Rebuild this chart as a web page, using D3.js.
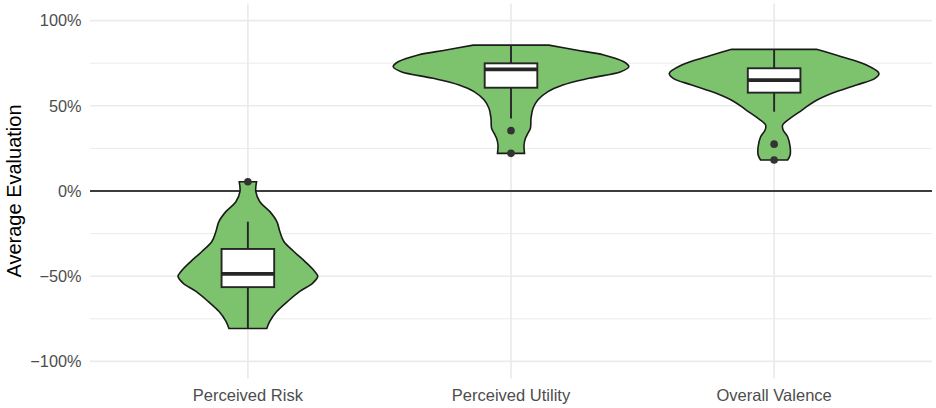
<!DOCTYPE html>
<html lang="en">
<head>
  <meta charset="UTF-8">
  <title>Average Evaluation</title>
  <style>
    body{ margin: 0; background: #fff; }
    text{ font-family: "Liberation Sans", Arial, sans-serif; }
  </style>
</head>
<body>
<svg width="936" height="408"></svg>

<script src="https://cdn.jsdelivr.net/npm/d3@7"></script>
<script>
  // data
  var categories = ["Perceived Risk", "Perceived Utility", "Overall Valence"];
  var yTicks = [-100, -50, 0, 50, 100];
  var yMinor = [-75, -25, 25, 75];

  // violin outlines: value (%) and relative density
  var riskLevels    = [5.4, -0.4, -6.3, -12.1, -18, -23.8, -29.6, -35.5, -41.3, -47.2, -50.1, -54, -58.9, -64.7, -70.6, -76.4, -80.7];
  var riskDensity   = [0.073, 0.067, 0.101, 0.186, 0.245, 0.27, 0.304, 0.388, 0.481, 0.565, 0.59, 0.548, 0.438, 0.337, 0.245, 0.186, 0.16];
  var utilityLevels  = [85.6, 82.7, 79.8, 75.8, 72.9, 70, 66.1, 62.2, 58.3, 53.5, 48.5, 42.6, 36.8, 33.5, 30.9, 27, 22.1];
  var utilityDensity = [0.319, 0.548, 0.784, 0.953, 0.995, 0.927, 0.658, 0.438, 0.312, 0.228, 0.186, 0.169, 0.164, 0.14, 0.122, 0.11, 0.114];
  var valenceLevels  = [83.1, 78.8, 73.9, 69, 66.1, 62.2, 57.3, 52.4, 47.5, 42.6, 38.7, 35.8, 31.8, 26, 21.1, 18.2];
  var valenceDensity = [0.358, 0.569, 0.78, 0.885, 0.852, 0.696, 0.489, 0.337, 0.236, 0.135, 0.072, 0.076, 0.114, 0.135, 0.135, 0.114];

  // boxplot stats per category
  var whiskerLow  = [-80.7, 42.6, 46.5];
  var q1          = [-56.4, 60.6, 57.7];
  var median      = [-48.6, 71.3, 65];
  var q3          = [-34, 74.9, 72];
  var whiskerHigh = [-18, 85.6, 83.1];
  var outliers    = [[5.4], [35.4, 22.1], [27.5, 18.2]];

  var violins = [
    {levels: riskLevels, density: riskDensity},
    {levels: utilityLevels, density: utilityDensity},
    {levels: valenceLevels, density: valenceDensity}
  ];

  var svg = d3.select('svg');
  var panel = {left: 90, right: 932, top: 3.5, bottom: 378.5};

  var x = d3.scalePoint().domain(categories).range([panel.left, panel.right]).padding(0.6);
  var y = d3.scaleLinear().domain([-110, 110]).range([panel.bottom, panel.top]);
  var step = x.step();
  var w = d3.scaleLinear().domain([0, 1]).range([0, step * 0.45]);
  var boxHalf = step * 0.1;

  // grid
  var grid = svg.append('g');
  grid.selectAll('.minor').data(yMinor).enter().append('line')
          .attr('x1', panel.left).attr('x2', panel.right)
          .attr('y1', function (d) { return y(d); }).attr('y2', function (d) { return y(d); })
          .attr('stroke', '#ebebeb').attr('stroke-width', 1);
  grid.selectAll('.major').data(yTicks).enter().append('line')
          .attr('x1', panel.left).attr('x2', panel.right)
          .attr('y1', function (d) { return y(d); }).attr('y2', function (d) { return y(d); })
          .attr('stroke', '#ebebeb').attr('stroke-width', 1.7);
  grid.selectAll('.vert').data(categories).enter().append('line')
          .attr('x1', function (d) { return x(d); }).attr('x2', function (d) { return x(d); })
          .attr('y1', panel.top).attr('y2', panel.bottom)
          .attr('stroke', '#ebebeb').attr('stroke-width', 1.7);

  // zero line
  svg.append('line')
          .attr('x1', panel.left).attr('x2', panel.right)
          .attr('y1', y(0)).attr('y2', y(0))
          .attr('stroke', '#000').attr('stroke-width', 1.5);

  // violins
  var area = d3.area().curve(d3.curveCatmullRom);
  svg.append('g').selectAll('path').data(violins).enter().append('path')
          .attr('d', function (v, i) {
            var cx = x(categories[i]);
            var pts = v.levels.map(function (l, j) { return [l, v.density[j]]; });
            return area
                    .y(function (p) { return y(p[0]); })
                    .x0(function (p) { return cx - w(p[1]); })
                    .x1(function (p) { return cx + w(p[1]); })(pts);
          })
          .attr('fill', '#7DC36D')
          .attr('stroke', '#1a1a1a')
          .attr('stroke-width', 1.6);

  // boxplots
  var boxes = svg.append('g').selectAll('g').data(categories).enter().append('g');
  boxes.append('line')
          .attr('x1', function (d) { return x(d); }).attr('x2', function (d) { return x(d); })
          .attr('y1', function (d, i) { return y(whiskerHigh[i]); })
          .attr('y2', function (d, i) { return y(q3[i]); })
          .attr('stroke', '#262626').attr('stroke-width', 1.9);
  boxes.append('line')
          .attr('x1', function (d) { return x(d); }).attr('x2', function (d) { return x(d); })
          .attr('y1', function (d, i) { return y(q1[i]); })
          .attr('y2', function (d, i) { return y(whiskerLow[i]); })
          .attr('stroke', '#262626').attr('stroke-width', 1.9);
  boxes.append('rect')
          .attr('x', function (d) { return x(d) - boxHalf; })
          .attr('width', boxHalf * 2)
          .attr('y', function (d, i) { return y(q3[i]); })
          .attr('height', function (d, i) { return y(q1[i]) - y(q3[i]); })
          .attr('fill', '#fff').attr('stroke', '#262626').attr('stroke-width', 1.9);
  boxes.append('line')
          .attr('x1', function (d) { return x(d) - boxHalf; })
          .attr('x2', function (d) { return x(d) + boxHalf; })
          .attr('y1', function (d, i) { return y(median[i]); })
          .attr('y2', function (d, i) { return y(median[i]); })
          .attr('stroke', '#262626').attr('stroke-width', 3.8);

  // outliers
  var pts = [];
  outliers.forEach(function (o, i) {
    o.forEach(function (v) { pts.push({cat: categories[i], v: v}); });
  });
  svg.append('g').selectAll('circle').data(pts).enter().append('circle')
          .attr('cx', function (d) { return x(d.cat); })
          .attr('cy', function (d) { return y(d.v); })
          .attr('r', 3.8)
          .attr('fill', '#333');

  // axes text
  svg.append('g').selectAll('text').data(yTicks).enter().append('text')
          .attr('x', 81.5).attr('y', function (d) { return y(d); })
          .attr('dy', '0.36em')
          .attr('text-anchor', 'end')
          .attr('font-size', 16.3)
          .attr('fill', '#4d4d4d')
          .text(function (d) { return (d < 0 ? '\u2212' + (-d) : d) + '%'; });

  svg.append('g').selectAll('text').data(categories).enter().append('text')
          .attr('x', function (d) { return x(d); }).attr('y', 401)
          .attr('text-anchor', 'middle')
          .attr('font-size', 16.5)
          .attr('fill', '#4d4d4d')
          .text(function (d) { return d; });

  svg.append('text')
          .attr('transform', 'translate(21,' + y(0) + ') rotate(-90)')
          .attr('text-anchor', 'middle')
          .attr('font-size', 20)
          .attr('fill', '#000')
          .text('Average Evaluation');
</script>
</body>
</html>
